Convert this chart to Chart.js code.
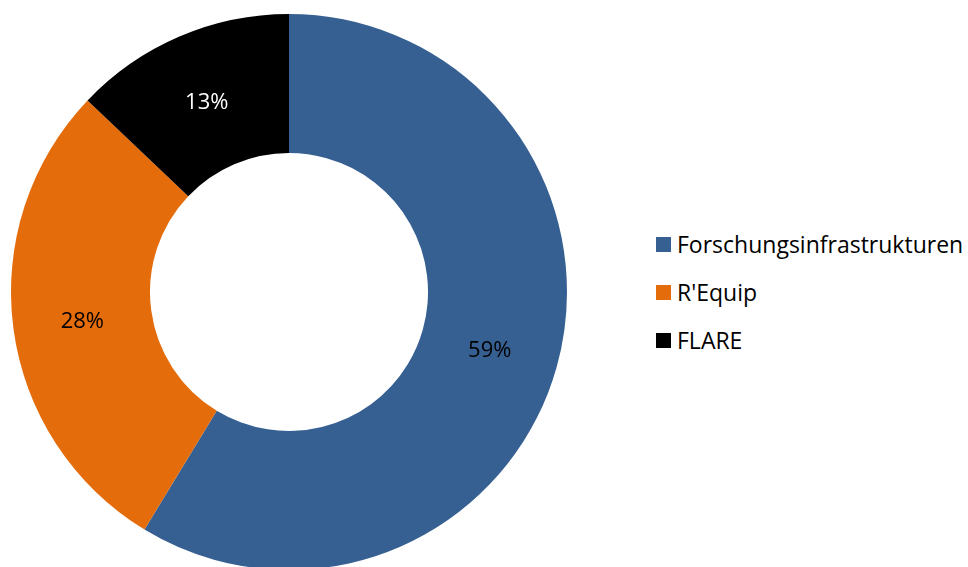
<!DOCTYPE html>
<html>
<head>
<meta charset="utf-8">
<script src="https://cdn.jsdelivr.net/npm/chart.js@4/dist/chart.umd.min.js"></script>
<style>
	html, body { margin: 0; padding: 0; background: #fff; overflow: hidden; }
	body { width: 968px; height: 567px; position: relative; }
	#chart-wrapper { position: absolute; left: 11px; top: 14px; width: 556px; height: 556px; }
	#legend { position: absolute; left: 656px; top: 232px; font-family: 'Open Sans', sans-serif; font-size: 23px; color: #000; }
	#legend .legend-item { display: flex; align-items: center; height: 48px; margin-top: -12px; margin-bottom: 12px; }
	#legend .legend-box { width: 15px; height: 15px; margin-right: 6px; flex: none; }
</style>
</head>
<body>
<div id="chart-wrapper"><canvas id="share-chart" width="556" height="556"></canvas></div>
<div id="legend"></div>
<script>
// Shares of funding in percent (labels show them rounded)
const categories = ['Forschungsinfrastrukturen', "R'Equip", 'FLARE'];
const shareValues = [58.7, 28.4, 12.9];
const sliceColors = ['#376092', '#E46C0A', '#000000'];
const labelColors = ['#000000', '#000000', '#ffffff'];

/* Draw the percent labels in the middle of each slice */
const sliceLabels = {
	id: 'sliceLabels',
	afterDatasetsDraw(chart) {
		const ctx = chart.ctx;
		const meta = chart.getDatasetMeta(0);
		const total = shareValues.reduce((a, b) => a + b, 0);
		ctx.save();
		ctx.font = '22px "Open Sans"';
		ctx.textAlign = 'center';
		ctx.textBaseline = 'middle';
		meta.data.forEach((arc, i) => {
			const pos = arc.tooltipPosition();
			ctx.fillStyle = labelColors[i];
			ctx.fillText(Math.round(shareValues[i] / total * 100) + '%', pos.x, pos.y + 2);
		});
		ctx.restore();
	}
};

const ctx = document.getElementById('share-chart').getContext('2d');
new Chart(ctx, {
	type: 'doughnut',
	data: {
		labels: categories,
		datasets: [{
			data: shareValues,
			backgroundColor: sliceColors,
			borderWidth: 0
		}]
	},
	options: {
		responsive: false,
		animation: false,
		devicePixelRatio: 1,
		cutout: '50%',
		layout: { padding: 0 },
		plugins: {
			legend: { display: false },
			tooltip: { enabled: false }
		}
	},
	plugins: [sliceLabels]
});

// Legend next to the chart
const legend = document.getElementById('legend');
categories.forEach((name, i) => {
	const item = document.createElement('div');
	item.className = 'legend-item';
	item.innerHTML = `<span class="legend-box" style="background:${sliceColors[i]}"></span><span>${name}</span>`;
	legend.appendChild(item);
});
</script>
</body>
</html>
